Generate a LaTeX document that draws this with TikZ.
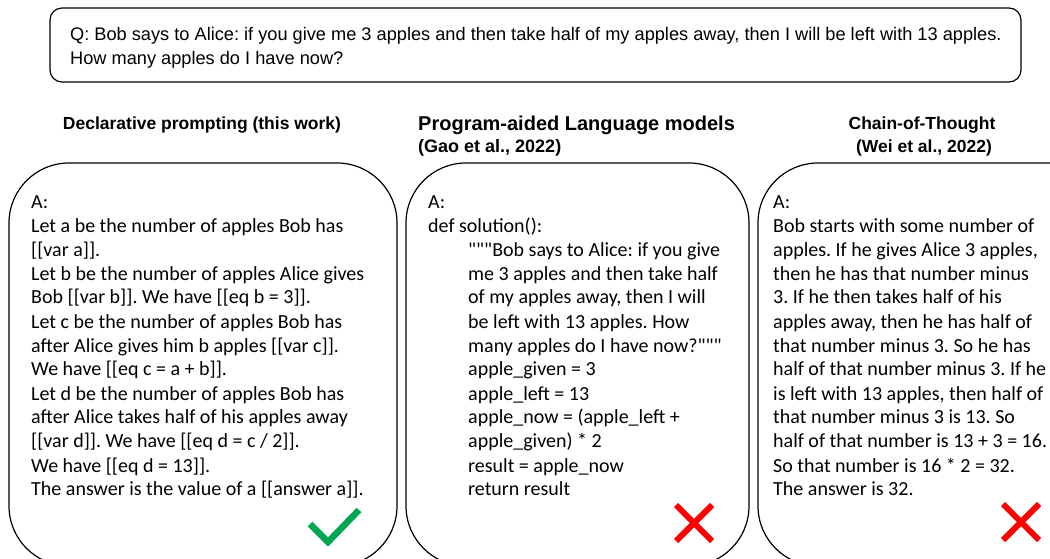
\documentclass[tikz,border=0pt]{standalone}
\usepackage{fontspec}
\setmainfont{Carlito}
\newfontfamily\arialf{Liberation Sans}
\newfontfamily\qfont{Carlito}
\newcommand{\dq}{{\qfont"""}}
\frenchspacing
\begin{document}
\begin{tikzpicture}[x=1pt,y=-1pt,
  frame/.style={draw=black,line width=1.2pt},
  body/.style={anchor=base west,inner sep=0pt},
  head/.style={inner sep=0pt,font=\arialf\bfseries\fontsize{17.5}{21}\selectfont},
  okmark/.style={draw={rgb,255:red,0;green,166;blue,80},line width=6.5pt},
  nomark/.style={draw=red,line width=6pt}]
\useasboundingbox (0,0) rectangle (1050,559);
\clip (0,0) rectangle (1050,559);
\fill[white] (0,0) rectangle (1050,559);
% question
\draw[frame,rounded corners=12pt] (50,8) rectangle (1021,82);
\node[anchor=base west,inner sep=0pt] (q) at (70,41)
  {\begin{minipage}[t]{960pt}\arialf\fontsize{18.2}{24}\selectfont\frenchspacing Q: Bob says to Alice: if you give me 3 apples and then take half of my apples away, then I will be left with 13 apples.\\
  How many apples do I have now?\end{minipage}};
% headings
\node[head,anchor=base] (hd) at (202,130) {Declarative prompting (this work)};
\node[head,anchor=base west,font=\arialf\bfseries\fontsize{20}{24}\selectfont] (hp) at (418,131) {Program-aided Language models};
\node[head,anchor=base west,font=\arialf\bfseries\fontsize{18}{22}\selectfont] (hpc) at (418,153) {(Gao et al., 2022)};
\node[head,anchor=base] (hc) at (922,130) {Chain-of-Thought};
\node[head,anchor=base] (hcc) at (924,153) {(Wei et al., 2022)};
% boxes
\draw[frame,rounded corners=60pt] (9,163) rectangle (397,566);
\draw[frame,rounded corners=60pt] (406,163) rectangle (749,566);
\draw[frame,rounded corners=60pt] (758,163) rectangle (1110,566);
% left text
\node[body] (td) at (31,208) {\begin{minipage}[t]{370pt}\fontsize{20}{24}\selectfont\frenchspacing
A:\\
Let a be the number of apples Bob has\\
{[}[var a]].\\
Let b be the number of apples Alice gives\\
Bob [[var b]]. We have [[eq b = 3]].\\
Let c be the number of apples Bob has\\
after Alice gives him b apples [[var c]].\\
We have [[eq c = a + b]].\\
Let d be the number of apples Bob has\\
after Alice takes half of his apples away\\
{[}[var d]]. We have [[eq d = c / 2]].\\
We have [[eq d = 13]].\\
The answer is the value of a [[answer a]].\end{minipage}};
% middle text
\node[body] (tp) at (428,208) {\begin{minipage}[t]{330pt}\fontsize{20}{24}\selectfont\frenchspacing
A:\\
def solution():\\
\hspace*{40pt}\dq Bob says to Alice: if you give\\
\hspace*{40pt}me 3 apples and then take half\\
\hspace*{40pt}of my apples away, then I will\\
\hspace*{40pt}be left with 13 apples. How\\
\hspace*{40pt}many apples do I have now?\dq\\
\hspace*{40pt}apple\_given = 3\\
\hspace*{40pt}apple\_left = 13\\
\hspace*{40pt}apple\_now = (apple\_left +\\
\hspace*{40pt}apple\_given) * 2\\
\hspace*{40pt}result = apple\_now\\
\hspace*{40pt}return result\end{minipage}};
% right text
\node[body] (tc) at (773,208) {\begin{minipage}[t]{300pt}\fontsize{20}{24}\selectfont\frenchspacing
A:\\
Bob starts with some number of\\
apples. If he gives Alice 3 apples,\\
then he has that number minus\\
3. If he then takes half of his\\
apples away, then he has half of\\
that number minus 3. So he has\\
half of that number minus 3. If he\\
is left with 13 apples, then half of\\
that number minus 3 is 13. So\\
half of that number is 13 + 3 = 16.\\
So that number is 16 * 2 = 32.\\
The answer is 32.\end{minipage}};
% marks
\draw[okmark] (310,524) -- (328,542) -- (359,510);
\draw[nomark] (676,505) -- (712,541) (712,505) -- (676,541);
\draw[nomark] (1003,504) -- (1039,540) (1039,504) -- (1003,540);
\end{tikzpicture}
\end{document}
